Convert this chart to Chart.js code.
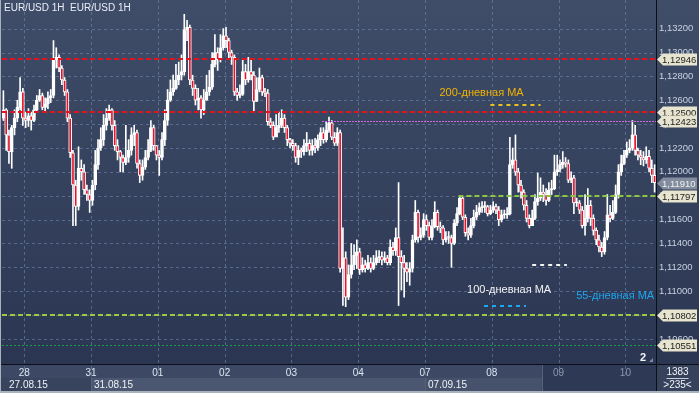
<!DOCTYPE html>
<html>
<head>
<meta charset="utf-8">
<script src="https://cdn.jsdelivr.net/npm/chart.js@4.4.0/dist/chart.umd.min.js"></script>
<style>
  html, body { margin: 0; padding: 0; background: #2b3652; }
  canvas { display: block; }
</style>
</head>
<body>
<canvas id="chart" width="699" height="393"></canvas>
<script>
// EUR/USD 1H, 235 visible bars (open of each bar = close of the previous one)
const firstOpen = 1.1245;
const closes = [
  1.1252, 1.1231, 1.1217, 1.1237, 1.1245, 1.1254, 1.1267, 1.1245, 1.1243, 1.1247,
  1.1243, 1.1252, 1.1260, 1.1264, 1.1254, 1.1257, 1.1262, 1.1264, 1.1294, 1.1296,
  1.1287, 1.1277, 1.1267, 1.1245, 1.1216, 1.1189, 1.1171, 1.1203, 1.1200, 1.1185,
  1.1181, 1.1176, 1.1189, 1.1206, 1.1220, 1.1227, 1.1239, 1.1245, 1.1252, 1.1239,
  1.1222, 1.1217, 1.1212, 1.1208, 1.1212, 1.1218, 1.1231, 1.1233, 1.1207, 1.1197,
  1.1204, 1.1212, 1.1218, 1.1237, 1.1222, 1.1214, 1.1212, 1.1227, 1.1243, 1.1260,
  1.1267, 1.1270, 1.1277, 1.1281, 1.1284, 1.1319, 1.1321, 1.1277, 1.1270, 1.1260,
  1.1262, 1.1252, 1.1260, 1.1267, 1.1271, 1.1290, 1.1300, 1.1294, 1.1304, 1.1314,
  1.1310, 1.1300, 1.1296, 1.1267, 1.1264, 1.1265, 1.1284, 1.1277, 1.1284, 1.1281,
  1.1259, 1.1269, 1.1279, 1.1267, 1.1266, 1.1242, 1.1239, 1.1229, 1.1237, 1.1239,
  1.1245, 1.1237, 1.1227, 1.1224, 1.1222, 1.1212, 1.1218, 1.1217, 1.1222, 1.1224,
  1.1218, 1.1222, 1.1220, 1.1227, 1.1233, 1.1227, 1.1235, 1.1241, 1.1229, 1.1224,
  1.1233, 1.1119, 1.1128, 1.1095, 1.1114, 1.1122, 1.1130, 1.1133, 1.1118, 1.1122,
  1.1119, 1.1124, 1.1119, 1.1124, 1.1128, 1.1129, 1.1126, 1.1128, 1.1124, 1.1137,
  1.1134, 1.1145, 1.1129, 1.1124, 1.1119, 1.1116, 1.1119, 1.1143, 1.1166, 1.1145,
  1.1147, 1.1160, 1.1155, 1.1145, 1.1154, 1.1166, 1.1154, 1.1153, 1.1143, 1.1145,
  1.1145, 1.1140, 1.1157, 1.1165, 1.1178, 1.1162, 1.1149, 1.1147, 1.1155, 1.1162,
  1.1166, 1.1170, 1.1171, 1.1171, 1.1165, 1.1168, 1.1171, 1.1168, 1.1160, 1.1164,
  1.1164, 1.1165, 1.1206, 1.1210, 1.1200, 1.1189, 1.1183, 1.1172, 1.1161, 1.1155,
  1.1161, 1.1175, 1.1178, 1.1183, 1.1181, 1.1176, 1.1185, 1.1186, 1.1200, 1.1202,
  1.1206, 1.1208, 1.1207, 1.1193, 1.1195, 1.1174, 1.1174, 1.1168, 1.1155, 1.1161,
  1.1172, 1.1161, 1.1151, 1.1143, 1.1137, 1.1133, 1.1145, 1.1164, 1.1161, 1.1166,
  1.1181, 1.1200, 1.1207, 1.1214, 1.1218, 1.1220, 1.1231, 1.1218, 1.1214, 1.1212,
  1.1210, 1.1213, 1.1203, 1.1197, 1.1191
];
const highs = [
  1.1268, 1.1253, 1.1235, 1.1239, 1.1252, 1.1260, 1.1279, 1.1270, 1.1250, 1.1253,
  1.1250, 1.1256, 1.1264, 1.1269, 1.1266, 1.1262, 1.1267, 1.1269, 1.1310, 1.1304,
  1.1298, 1.1289, 1.1279, 1.1269, 1.1248, 1.1218, 1.1193, 1.1221, 1.1210, 1.1206,
  1.1189, 1.1185, 1.1193, 1.1218, 1.1227, 1.1237, 1.1248, 1.1253, 1.1256, 1.1253,
  1.1243, 1.1227, 1.1218, 1.1214, 1.1239, 1.1227, 1.1237, 1.1239, 1.1235, 1.1210,
  1.1210, 1.1218, 1.1227, 1.1243, 1.1239, 1.1222, 1.1218, 1.1233, 1.1252, 1.1269,
  1.1277, 1.1281, 1.1290, 1.1292, 1.1298, 1.1332, 1.1327, 1.1323, 1.1281, 1.1273,
  1.1270, 1.1264, 1.1269, 1.1281, 1.1285, 1.1300, 1.1315, 1.1304, 1.1315, 1.1320,
  1.1321, 1.1312, 1.1302, 1.1298, 1.1270, 1.1273, 1.1294, 1.1290, 1.1296, 1.1295,
  1.1284, 1.1279, 1.1287, 1.1281, 1.1270, 1.1269, 1.1245, 1.1242, 1.1248, 1.1250,
  1.1252, 1.1248, 1.1239, 1.1228, 1.1227, 1.1224, 1.1222, 1.1220, 1.1227, 1.1233,
  1.1227, 1.1227, 1.1228, 1.1231, 1.1237, 1.1237, 1.1242, 1.1246, 1.1243, 1.1233,
  1.1237, 1.1235, 1.1153, 1.1133, 1.1122, 1.1140, 1.1139, 1.1143, 1.1136, 1.1128,
  1.1126, 1.1130, 1.1128, 1.1130, 1.1134, 1.1134, 1.1133, 1.1133, 1.1130, 1.1143,
  1.1141, 1.1153, 1.1191, 1.1134, 1.1130, 1.1124, 1.1124, 1.1147, 1.1176, 1.1168,
  1.1153, 1.1165, 1.1164, 1.1158, 1.1160, 1.1175, 1.1168, 1.1158, 1.1155, 1.1150,
  1.1150, 1.1147, 1.1160, 1.1170, 1.1180, 1.1179, 1.1164, 1.1153, 1.1161, 1.1168,
  1.1172, 1.1174, 1.1175, 1.1175, 1.1172, 1.1172, 1.1175, 1.1173, 1.1171, 1.1168,
  1.1168, 1.1170, 1.1229, 1.1220, 1.1231, 1.1203, 1.1193, 1.1185, 1.1176, 1.1164,
  1.1168, 1.1181, 1.1199, 1.1195, 1.1189, 1.1186, 1.1191, 1.1193, 1.1214, 1.1214,
  1.1210, 1.1217, 1.1212, 1.1210, 1.1200, 1.1197, 1.1178, 1.1176, 1.1171, 1.1181,
  1.1186, 1.1176, 1.1164, 1.1153, 1.1147, 1.1141, 1.1150, 1.1181, 1.1172, 1.1176,
  1.1189, 1.1206, 1.1214, 1.1218, 1.1225, 1.1227, 1.1243, 1.1239, 1.1220, 1.1218,
  1.1217, 1.1221, 1.1218, 1.1210, 1.1206
];
const lows = [
  1.1243, 1.1218, 1.1207, 1.1203, 1.1231, 1.1242, 1.1252, 1.1239, 1.1237, 1.1238,
  1.1235, 1.1242, 1.1250, 1.1259, 1.1252, 1.1250, 1.1253, 1.1258, 1.1262, 1.1287,
  1.1284, 1.1273, 1.1264, 1.1242, 1.1212, 1.1155, 1.1155, 1.1168, 1.1193, 1.1181,
  1.1176, 1.1166, 1.1172, 1.1185, 1.1202, 1.1218, 1.1222, 1.1235, 1.1243, 1.1235,
  1.1218, 1.1210, 1.1200, 1.1200, 1.1206, 1.1208, 1.1214, 1.1222, 1.1203, 1.1191,
  1.1193, 1.1202, 1.1210, 1.1217, 1.1218, 1.1210, 1.1197, 1.1210, 1.1222, 1.1239,
  1.1259, 1.1264, 1.1269, 1.1273, 1.1277, 1.1281, 1.1310, 1.1273, 1.1264, 1.1256,
  1.1252, 1.1245, 1.1248, 1.1260, 1.1264, 1.1269, 1.1288, 1.1285, 1.1292, 1.1302,
  1.1304, 1.1295, 1.1290, 1.1264, 1.1260, 1.1262, 1.1264, 1.1273, 1.1275, 1.1277,
  1.1250, 1.1259, 1.1267, 1.1264, 1.1263, 1.1239, 1.1237, 1.1227, 1.1231, 1.1233,
  1.1237, 1.1233, 1.1222, 1.1220, 1.1218, 1.1208, 1.1206, 1.1212, 1.1214, 1.1217,
  1.1214, 1.1214, 1.1216, 1.1218, 1.1222, 1.1224, 1.1225, 1.1233, 1.1227, 1.1222,
  1.1222, 1.1116, 1.1088, 1.1087, 1.1093, 1.1111, 1.1118, 1.1119, 1.1114, 1.1116,
  1.1116, 1.1118, 1.1116, 1.1118, 1.1122, 1.1124, 1.1122, 1.1124, 1.1122, 1.1122,
  1.1130, 1.1130, 1.1088, 1.1101, 1.1095, 1.1108, 1.1105, 1.1116, 1.1141, 1.1141,
  1.1143, 1.1145, 1.1151, 1.1143, 1.1143, 1.1153, 1.1151, 1.1149, 1.1139, 1.1141,
  1.1140, 1.1120, 1.1139, 1.1155, 1.1164, 1.1160, 1.1146, 1.1143, 1.1145, 1.1153,
  1.1160, 1.1164, 1.1166, 1.1166, 1.1163, 1.1164, 1.1166, 1.1165, 1.1155, 1.1158,
  1.1161, 1.1161, 1.1164, 1.1203, 1.1197, 1.1183, 1.1178, 1.1168, 1.1158, 1.1153,
  1.1155, 1.1160, 1.1172, 1.1176, 1.1175, 1.1172, 1.1175, 1.1181, 1.1185, 1.1197,
  1.1200, 1.1203, 1.1204, 1.1191, 1.1191, 1.1165, 1.1171, 1.1165, 1.1153, 1.1147,
  1.1158, 1.1155, 1.1147, 1.1139, 1.1133, 1.1129, 1.1131, 1.1143, 1.1158, 1.1160,
  1.1165, 1.1178, 1.1197, 1.1206, 1.1212, 1.1216, 1.1218, 1.1214, 1.1210, 1.1206,
  1.1205, 1.1207, 1.1200, 1.1191, 1.1183
];

const dayLabels = ['28', '31', '01', '02', '03', '04', '07', '08', '09', '10'];
const weekLabels = ['27.08.15', '31.08.15', '07.09.15'];
const yTicks = [1.106, 1.108, 1.110, 1.112, 1.114, 1.116, 1.118, 1.120, 1.122, 1.124, 1.126, 1.128, 1.130, 1.132];
const levelValues = [1.12946, 1.12500, 1.12423, 1.11797, 1.10802, 1.10551];
const lastPrice = 1.11910;
const totalBars = 1383;
const maNames = ['200-дневная МА', '100-дневная МА', '55-дневная МА'];

// layout / style settings (not data)
const firstDayBar = 8, barsPerDay = 24;
const weekStartBars = [0, 32, 152];
const shadeFrom = 194;
const levelStyle = [
  { color: '#e8121e', width: 2, dash: [5, 3], from: 0 },
  { color: '#e8121e', width: 2, dash: [5, 3], from: 0 },
  { color: '#d468dc', width: 1, dash: [2, 1], from: 115 },
  { color: '#8cc63f', width: 2, dash: [5, 3], from: 164 },
  { color: '#9fca3f', width: 2, dash: [5, 3], from: 0 },
  { color: '#1f9d45', width: 1, dash: [2, 2], from: 0 }
];
const maStyle = [
  { color: '#f2b300', seg: '#e9c21c', text: [156.7, 1.1266], line: [175, 193, 1.1256] },
  { color: '#f2f2f2', seg: '#f2f2f2', text: [166.6, 1.1101], line: [190, 202.5, 1.1122] },
  { color: '#1ea6ee', seg: '#1ea6ee', text: [205.8, 1.1096], line: [172.7, 187.8, 1.1088] }
];

const opens = [firstOpen].concat(closes.slice(0, -1));
const categories = closes.map((_, i) =>
  (i >= firstDayBar && (i - firstDayBar) % barsPerDay === 0) ? dayLabels[(i - firstDayBar) / barsPerDay] : '');

const fmt = v => v.toFixed(5).replace('.', ',');

Chart.defaults.font.family = '"Liberation Sans", Arial, sans-serif';

const decor = {
  id: 'decor',
  beforeDraw(chart) {
    const { ctx, chartArea: a, scales: { x } } = chart;
    const W = chart.width, H = chart.height;
    const half = (a.right - a.left) / closes.length / 2;
    const edge = k => x.getPixelForValue(k) - half;
    ctx.save();
    const g = ctx.createLinearGradient(0, 0, 0, a.bottom);
    g.addColorStop(0, '#3f4d69');
    g.addColorStop(1, '#2b3652');
    ctx.fillStyle = g;
    ctx.fillRect(0, 0, W, a.bottom);
    // time band rows
    const r1 = a.bottom, r2 = a.bottom + 14, r3 = H - 2;
    ctx.fillStyle = '#3d4964';
    ctx.fillRect(0, r1, a.right, r2 - r1);
    ctx.fillStyle = '#38445e';
    ctx.fillRect(0, r2, a.right, r3 - r2);
    ctx.fillStyle = '#4b5770';
    ctx.fillRect(edge(weekStartBars[1]), r2, edge(weekStartBars[2]) - edge(weekStartBars[1]), r3 - r2);
    ctx.fillStyle = '#46526b';
    ctx.fillRect(edge(weekStartBars[2]), r2, edge(shadeFrom) - edge(weekStartBars[2]), r3 - r2);
    ctx.fillStyle = '#2e3955';
    ctx.fillRect(edge(shadeFrom), r1, a.right - edge(shadeFrom), r3 - r1);
    ctx.fillStyle = '#56627a';
    [weekStartBars[1], weekStartBars[2]].forEach(k => ctx.fillRect(Math.round(edge(k)), r2, 1, r3 - r2));
    ctx.fillRect(Math.round(edge(shadeFrom)), r1, 1, r3 - r1);
    // right lower box
    ctx.fillStyle = '#36425c';
    ctx.fillRect(a.right, r1, W - a.right, r3 - r1);
    // frame
    ctx.fillStyle = '#aab2c0';
    ctx.fillRect(0, 0, 1, H);
    ctx.fillRect(0, H - 2, W, 2);
    ctx.restore();
  },
  beforeDatasetsDraw(chart) {
    const { ctx, chartArea: a, scales: { x, y } } = chart;
    const half = (a.right - a.left) / closes.length / 2;
    ctx.save();
    ctx.strokeStyle = 'rgba(120,140,178,0.55)';
    ctx.lineWidth = 1;
    ctx.setLineDash([3, 3]);
    yTicks.forEach(v => {
      const py = Math.round(y.getPixelForValue(v)) + 0.5;
      ctx.beginPath(); ctx.moveTo(a.left, py); ctx.lineTo(a.right, py); ctx.stroke();
    });
    categories.forEach((c, i) => {
      if (!c) return;
      const px = Math.round(x.getPixelForValue(i) - half) + 0.5;
      ctx.beginPath(); ctx.moveTo(px, a.top); ctx.lineTo(px, a.bottom + 14); ctx.stroke();
    });
    ctx.restore();
  },
  afterDatasetsDraw(chart) {
    const { ctx, chartArea: a, scales: { x, y } } = chart;
    const half = (a.right - a.left) / closes.length / 2;
    ctx.save();
    levelValues.forEach((v, i) => {
      const s = levelStyle[i];
      const py = Math.round(y.getPixelForValue(v)) + (s.width === 1 ? 0.5 : 0);
      ctx.strokeStyle = s.color;
      ctx.lineWidth = s.width;
      ctx.setLineDash(s.dash);
      ctx.beginPath();
      ctx.moveTo(s.from ? x.getPixelForValue(s.from) - half : a.left, py);
      ctx.lineTo(a.right, py);
      ctx.stroke();
    });
    // moving average captions
    ctx.font = '11px "Liberation Sans", Arial, sans-serif';
    ctx.textBaseline = 'middle';
    ctx.textAlign = 'left';
    maNames.forEach((name, i) => {
      const s = maStyle[i];
      ctx.fillStyle = s.color;
      ctx.fillText(name, x.getPixelForValue(s.text[0]), y.getPixelForValue(s.text[1]));
      ctx.strokeStyle = s.seg;
      ctx.lineWidth = 2;
      ctx.setLineDash([4, 4]);
      const py = Math.round(y.getPixelForValue(s.line[2]));
      ctx.beginPath();
      ctx.moveTo(x.getPixelForValue(s.line[0]), py);
      ctx.lineTo(x.getPixelForValue(s.line[1]), py);
      ctx.stroke();
    });
    ctx.setLineDash([]);
    // title
    ctx.fillStyle = '#e9eef7';
    ctx.font = '10px "Liberation Sans", Arial, sans-serif';
    ctx.fillText('EUR/USD 1H  EUR/USD 1H', 4, 8);
    // page marker
    ctx.font = 'bold 11px "Liberation Sans", Arial, sans-serif';
    ctx.fillStyle = '#f4f6fa';
    ctx.textAlign = 'center';
    ctx.fillText('2', a.right - 13, a.bottom - 6);
    ctx.fillStyle = '#7f8aa0';
    ctx.beginPath();
    ctx.moveTo(a.right - 7, a.bottom - 2);
    ctx.lineTo(a.right - 3, a.bottom - 2);
    ctx.lineTo(a.right - 3, a.bottom - 6);
    ctx.closePath();
    ctx.fill();
    ctx.restore();
  },
  afterDraw(chart) {
    const { ctx, chartArea: a, scales: { x, y } } = chart;
    const W = chart.width, H = chart.height;
    const half = (a.right - a.left) / closes.length / 2;
    ctx.save();
    // separators
    ctx.fillStyle = '#0b0f18';
    ctx.fillRect(a.right, 0, 1, H - 2);
    ctx.fillRect(1, a.bottom, W - 1, 1);
    // price tags
    const tag = (v, text, fill, color) => {
      const py = Math.round(y.getPixelForValue(v)) + 0.5;
      const x0 = a.right + 1, h = 12;
      ctx.fillStyle = fill;
      ctx.beginPath();
      ctx.moveTo(x0, py);
      ctx.lineTo(x0 + 6, py - h / 2);
      ctx.lineTo(W - 2, py - h / 2);
      ctx.lineTo(W - 2, py + h / 2);
      ctx.lineTo(x0 + 6, py + h / 2);
      ctx.closePath();
      ctx.fill();
      ctx.fillStyle = color;
      ctx.font = '9.5px "Liberation Sans", Arial, sans-serif';
      ctx.textAlign = 'left';
      ctx.textBaseline = 'middle';
      ctx.fillText(text, x0 + 5, py + 0.5);
    };
    levelValues.forEach(v => tag(v, fmt(v), '#e7e5cf', '#1c1c1c'));
    tag(lastPrice, fmt(lastPrice), '#828c9c', '#eef1f6');
    // week captions
    ctx.font = '10px "Liberation Sans", Arial, sans-serif';
    ctx.fillStyle = '#f0f3f8';
    ctx.textAlign = 'left';
    ctx.textBaseline = 'middle';
    weekLabels.forEach((t, i) => {
      const px = weekStartBars[i] === 0 ? 9 : x.getPixelForValue(weekStartBars[i]) - half + 3;
      ctx.fillText(t, px, a.bottom + 21);
    });
    // bar counter box
    const cx = (a.right + W) / 2;
    ctx.textAlign = 'center';
    ctx.fillText(String(totalBars), cx, a.bottom + 8);
    ctx.fillStyle = '#c8cfdb';
    ctx.fillRect(cx - 11, a.bottom + 14, 22, 1);
    ctx.fillStyle = '#f0f3f8';
    ctx.fillText('>' + closes.length + '<', cx, a.bottom + 21);
    ctx.restore();
  }
};

const noPad = s => { s.paddingTop = 0; s.paddingBottom = 0; s.paddingLeft = 0; s.paddingRight = 0; };

new Chart(document.getElementById('chart'), {
  type: 'bar',
  data: {
    labels: categories,
    datasets: [
      {
        label: 'wicks',
        data: lows.map((l, i) => [l, highs[i]]),
        backgroundColor: '#ffffff',
        borderWidth: 0,
        barThickness: 1,
        grouped: false,
        order: 2
      },
      {
        label: 'bodies',
        data: closes.map((c, i) => [opens[i], c]),
        backgroundColor: closes.map((c, i) => c >= opens[i] ? '#ffffff' : '#e8142c'),
        borderColor: '#ffffff',
        borderWidth: 1,
        borderSkipped: false,
        barThickness: 3,
        minBarLength: 1,
        grouped: false,
        order: 1
      }
    ]
  },
  options: {
    responsive: false,
    animation: false,
    events: [],
    layout: { padding: { left: 2, top: 0, right: 0, bottom: 0 } },
    plugins: { legend: { display: false }, tooltip: { enabled: false } },
    scales: {
      x: {
        type: 'category',
        offset: true,
        grid: { display: false, drawTicks: false },
        border: { display: false },
        ticks: {
          autoSkip: false,
          maxRotation: 0,
          padding: 3,
          labelOffset: -1.4,
          font: { size: 10 },
          color: c => c.index >= shadeFrom ? '#8c97ab' : '#dde5f1'
        },
        afterFit: s => { s.height = 29; noPad(s); }
      },
      y: {
        position: 'right',
        min: 1.1039,
        max: 1.1344,
        grid: { display: false, drawTicks: false },
        border: { display: false },
        afterBuildTicks: s => { s.ticks = yTicks.map(v => ({ value: v })); },
        afterFit: s => { s.width = 43; noPad(s); },
        ticks: {
          padding: 3,
          font: { size: 9.5 },
          color: '#c9d2e0',
          callback: v => fmt(v)
        }
      }
    }
  },
  plugins: [decor]
});
</script>
</body>
</html>
